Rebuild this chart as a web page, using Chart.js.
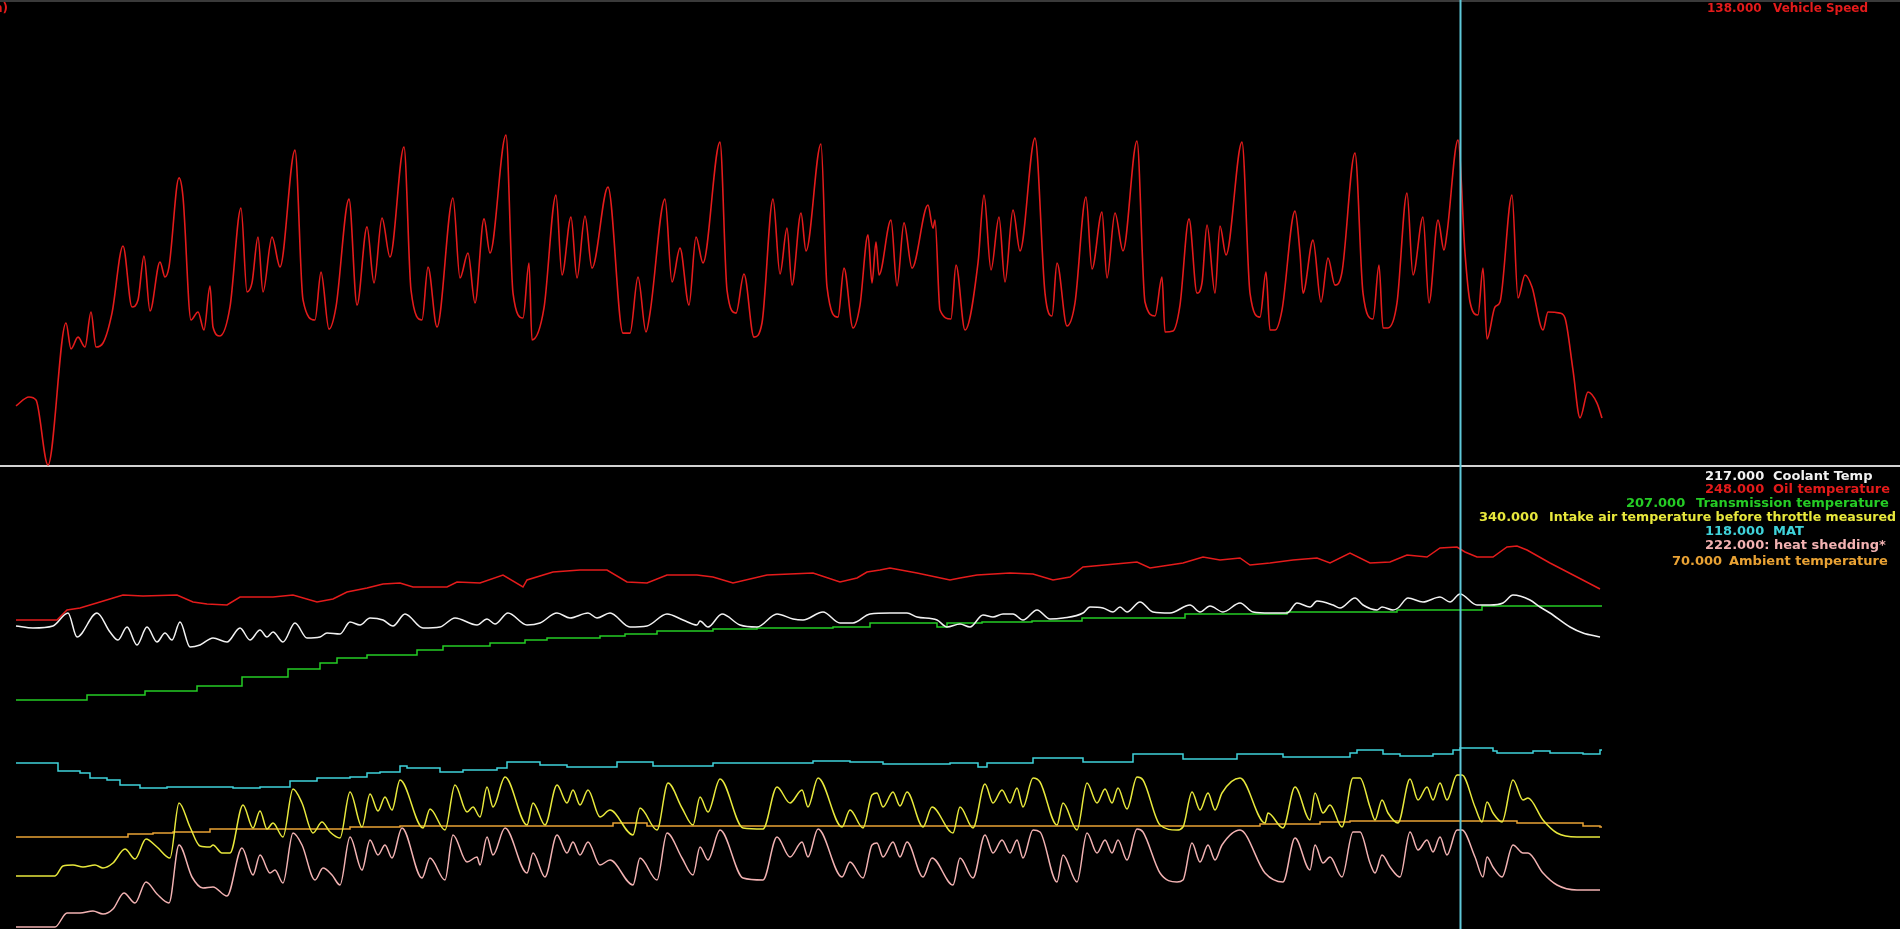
<!DOCTYPE html>
<html>
<head>
<meta charset="utf-8">
<script src="https://cdn.jsdelivr.net/npm/chart.js@4.4.1/dist/chart.umd.min.js"></script>
<style>
html,body{margin:0;padding:0;background:#000;overflow:hidden;}
#wrap{position:relative;width:1900px;height:929px;background:#000;overflow:hidden;}
#c{position:absolute;left:0;top:0;}
.lbl{position:absolute;font-family:"DejaVu Sans",sans-serif;font-weight:bold;font-size:13px;line-height:14px;white-space:pre;}
.top{font-size:12px;}
.narrow{font-size:12.6px;}
</style>
</head>
<body>
<div id="wrap">
<canvas id="c" width="1900" height="929"></canvas>
</div>
<script>
// ---- data: [time sample, value] ----
const cursorTime = 1445;

const vehicleSpeed = [[1,25.1],[14,28.9],[21,27.6],[33,0],[51,60.3],[56,49.3],[63,54.3],[70,50.1],[76,65.0],[81,50.1],[88,51.8],[97,64.5],[108,93.0],[117,67.1],[123,70.1],[129,88.7],[135,65.4],[145,86.2],[150,79.8],[154,84.1],[164,121.9],[168,113.8],[176,61.6],[183,65.0],[189,57.3],[195,76.0],[198,58.6],[205,54.8],[215,67.1],[226,109.1],[232,73.5],[237,77.3],[243,96.8],[248,73.5],[257,96.8],[265,84.1],[280,133.7],[288,70.1],[300,61.6],[306,81.9],[314,57.7],[321,67.1],[334,112.9],[342,67.9],[352,101.1],[359,77.3],[367,104.9],[375,88.3],[389,135.0],[396,74.3],[407,61.6],[413,84.1],[422,58.6],[438,113.4],[445,79.4],[453,90.0],[460,68.8],[469,104.5],[475,90.0],[491,140.1],[498,73.0],[508,62.4],[514,85.8],[517,53.1],[529,66.7],[541,114.6],[547,80.7],[556,105.3],[562,79.4],[570,105.7],[577,83.6],[593,118.0],[608,56.0],[615,56.0],[623,79.8],[631,56.5],[635,64.5],[650,112.9],[657,77.7],[665,92.1],[674,67.9],[681,96.8],[688,85.8],[705,137.1],[712,74.3],[721,64.5],[729,81.1],[739,54.3],[747,60.3],[758,112.9],[765,81.1],[772,100.6],[777,76.4],[786,107.0],[791,90.9],[806,136.3],[812,75.6],[823,62.8],[829,83.6],[838,58.2],[845,67.9],[853,97.7],[857,77.3],[861,94.7],[864,80.7],[876,104.0],[882,76.0],[889,102.8],[897,83.6],[913,110.4],[918,100.6],[920,104.0],[925,65.8],[936,62.0],[941,84.9],[950,57.3],[963,85.8],[969,114.6],[976,82.8],[984,105.3],[990,77.7],[998,108.3],[1005,90.9],[1020,138.8],[1030,73.0],[1037,63.3],[1042,85.8],[1052,59.0],[1060,68.8],[1071,113.8],[1077,83.2],[1087,107.4],[1092,79.4],[1100,107.0],[1108,90.9],[1122,137.6],[1130,69.2],[1140,63.3],[1147,79.8],[1150,56.5],[1158,56.9],[1165,67.9],[1174,104.5],[1182,73.0],[1187,77.3],[1192,101.9],[1200,73.0],[1205,101.5],[1211,89.2],[1227,137.1],[1235,73.0],[1245,62.8],[1251,81.9],[1255,57.3],[1260,57.3],[1267,65.8],[1280,107.8],[1285,90.0],[1288,73.0],[1298,95.5],[1306,69.2],[1313,87.9],[1320,76.4],[1327,81.9],[1340,132.5],[1348,73.0],[1358,62.0],[1364,84.9],[1368,58.2],[1373,58.2],[1382,68.8],[1392,115.5],[1398,80.7],[1408,105.3],[1414,68.8],[1423,104.0],[1429,91.3],[1432,98.5],[1443,138.0],[1450,90.0],[1455,69.2],[1463,63.7],[1468,83.6],[1472,53.5],[1480,67.1],[1485,69.2],[1497,114.6],[1503,70.9],[1510,80.7],[1517,75.6],[1528,57.3],[1533,65.0],[1545,64.5],[1550,62.4],[1558,40.3],[1565,20.0],[1573,31.0],[1582,26.3],[1587,20.0]];

const coolantTemp = [[1,204.2],[18,203.4],[38,204.2],[53,209.4],[62,199.8],[82,209.4],[95,201.8],[103,198.6],[112,203.8],[122,196.6],[132,203.8],[142,197.8],[150,201.4],[157,198.6],[165,205.8],[175,195.8],[185,196.6],[198,199.4],[212,197.8],[225,203.4],[235,198.6],[245,202.6],[252,199.8],[258,201.8],[268,197.8],[280,205.4],[292,199.4],[305,199.8],[312,201.4],[325,201.0],[335,205.8],[345,204.6],[355,207.4],[368,206.6],[378,204.2],[390,209.0],[408,203.4],[425,203.8],[440,207.4],[462,204.6],[472,207.0],[480,205.0],[493,209.4],[512,204.6],[525,205.4],[542,209.4],[555,207.4],[573,209.4],[582,207.4],[595,209.4],[615,203.8],[632,204.2],[652,209.0],[668,206.6],[682,204.6],[685,206.2],[693,203.8],[707,209.0],[725,204.6],[742,203.8],[762,209.0],[778,207.0],[788,206.6],[808,209.8],[825,205.4],[838,205.4],[855,209.0],[875,209.4],[892,209.4],[902,207.8],[922,206.6],[932,203.8],[945,205.0],[955,203.8],[968,208.6],[978,207.8],[988,209.0],[998,209.0],[1008,206.6],[1022,210.6],[1035,207.0],[1048,207.4],[1068,209.4],[1075,211.8],[1088,211.4],[1098,209.8],[1105,211.8],[1112,209.8],[1125,213.8],[1138,209.8],[1155,209.4],[1175,212.6],[1185,209.8],[1195,212.2],[1208,209.8],[1225,213.4],[1238,209.8],[1255,209.4],[1272,209.4],[1282,213.4],[1295,211.8],[1302,214.2],[1318,212.6],[1325,211.4],[1340,215.4],[1348,212.6],[1362,210.6],[1367,211.8],[1378,210.6],[1383,211.4],[1393,215.4],[1408,213.8],[1425,215.8],[1435,213.8],[1445,217.0],[1462,212.6],[1475,212.6],[1488,213.4],[1498,216.6],[1515,214.6],[1525,211.8],[1535,209.4],[1555,203.8],[1568,201.4],[1585,199.8]];

const oilTemp = [[1,212],[42,212],[52,217],[65,218],[85,221],[108,224.5],[128,224],[162,224.5],[178,221],[192,220],[212,219.5],[225,223.5],[258,223.5],[278,224.5],[302,221],[318,222.5],[332,226],[352,228],[368,230],[385,230.5],[398,228.5],[432,228.5],[442,231],[465,230.5],[488,234.5],[508,228.5],[512,232],[538,236],[565,237],[592,237],[612,231],[632,230.5],[652,234.5],[682,234.5],[698,233.5],[718,230.5],[752,234.5],[798,235.5],[825,231],[842,233],[852,236],[865,237],[875,238],[902,235.5],[935,232],[945,233],[962,234.5],[995,235.5],[1018,235],[1038,232],[1055,233.5],[1068,238.5],[1122,241],[1135,238],[1168,240.5],[1188,243.5],[1205,242],[1225,243],[1235,239.5],[1255,240.5],[1278,242],[1302,243],[1315,240.5],[1335,245.5],[1355,240.5],[1375,241],[1392,244.5],[1412,243.5],[1425,248],[1442,248.5],[1450,246],[1462,243.5],[1478,243.5],[1492,248.5],[1502,249],[1512,247],[1535,240.5],[1562,233.5],[1585,227.5]];

const transTemp = [[1,161.5],[72,164],[130,166],[182,168.5],[227,173],[273,177],[305,180],[322,182.5],[352,184],[402,186.5],[428,188.5],[475,190],[510,191.5],[532,192.5],[585,193.5],[610,194.5],[642,196],[698,197],[742,197.5],[818,198],[855,200],[922,198],[932,200],[967,200.5],[1017,201],[1067,202.5],[1170,204.5],[1272,205.5],[1382,206.5],[1467,208.5],[1587,208.5]];

const intakeAirTemp = [[1,239],[40,239],[48,249],[58,250],[68,248],[80,250],[88,247],[98,252],[110,266],[120,256],[131,276],[142,268],[155,257],[164,312],[175,288],[185,269],[195,268],[198,270],[207,262],[215,262],[228,310],[238,287],[245,304],[252,286],[258,292],[268,278],[278,326],[287,312],[298,282],[307,293],[315,283],[325,277],[335,323],[347,288],[355,321],[363,304],[370,318],[377,305],[385,335],[408,287],[415,306],[430,285],[440,330],[452,303],[458,308],[465,298],[472,328],[478,308],[490,338],[512,290],[518,312],[530,290],[542,330],[552,312],[558,325],[565,310],[573,325],[585,298],[595,305],[618,280],[625,307],[642,285],[653,332],[667,307],[678,290],[685,318],[693,303],[705,336],[728,287],[748,286],[762,328],[775,312],[787,325],[793,308],[803,337],[827,288],[835,305],[848,287],[857,320],[862,322],[868,308],[878,323],[885,309],[892,323],[908,288],[917,308],[938,282],[945,308],[958,287],[970,331],[978,312],[987,325],[995,312],[1002,327],[1008,308],[1018,337],[1025,333],[1042,290],[1048,312],[1062,285],[1072,332],[1082,312],[1090,326],[1097,312],[1103,327],[1112,306],[1122,338],[1128,335],[1145,290],[1162,285],[1168,288],[1177,323],[1185,305],[1193,322],[1200,305],[1207,322],[1225,337],[1250,292],[1253,302],[1268,287],[1280,328],[1295,295],[1300,322],[1308,302],[1315,310],[1327,288],[1338,337],[1345,337],[1355,308],[1360,295],[1367,315],[1373,302],[1383,292],[1395,336],[1403,315],[1412,328],[1418,315],[1425,332],[1432,315],[1442,340],[1447,340],[1460,308],[1467,293],[1472,313],[1478,302],[1487,293],[1498,335],[1508,315],[1513,317],[1528,295],[1542,282],[1562,278],[1585,278]];

const matTemp = [[1,110.5],[37,110.5],[43,106.5],[65,105.5],[75,103],[92,102],[105,99.5],[125,98],[152,98.5],[185,98.5],[218,98],[245,98.5],[275,101.5],[302,103],[335,103.5],[352,105.5],[365,106],[385,109],[392,108],[425,106],[448,107],[482,108],[492,111],[525,109.5],[552,108.5],[602,111],[638,109],[698,110.5],[732,110.5],[798,111.5],[835,111],[868,110],[935,110.5],[963,108.5],[972,110.5],[1018,113],[1068,111],[1118,115],[1168,112.5],[1222,115],[1268,113.5],[1335,115.5],[1342,117],[1368,115],[1385,114],[1418,115],[1438,117],[1445,118],[1478,116.5],[1482,115.5],[1502,115.5],[1518,116.5],[1535,115.5],[1568,115],[1585,117],[1587,117]];

const heatShedding = [[1,125],[40,125],[52,139],[65,139],[78,141],[88,138],[98,143],[109,159],[120,149],[131,170],[142,158],[154,149],[164,207],[177,175],[188,164],[198,165],[212,156],[227,204],[238,177],[245,197],[255,179],[260,182],[268,169],[278,219],[287,207],[300,172],[308,184],[317,177],[325,167],[335,215],[347,182],[355,212],[363,197],[370,207],[377,194],[387,224],[407,174],[415,194],[430,172],[438,217],[452,190],[462,195],[465,187],[472,215],[478,197],[490,224],[512,179],[518,199],[530,175],[542,217],[552,199],[558,210],[565,197],[573,210],[585,187],[595,192],[618,167],[625,194],[642,172],[652,219],[667,194],[678,177],[685,205],[693,192],[705,222],[728,174],[748,172],[762,215],[775,195],[787,210],[793,195],[803,223],[827,175],[835,190],[848,174],[857,207],[862,209],[868,195],[878,210],[885,195],[892,210],[908,175],[917,194],[938,167],[945,194],[958,174],[970,217],[978,199],[987,212],[995,199],[1002,212],[1008,194],[1018,222],[1025,220],[1042,170],[1048,197],[1062,170],[1072,219],[1082,199],[1090,212],[1097,199],[1103,212],[1112,192],[1122,223],[1128,220],[1145,179],[1162,170],[1168,172],[1177,209],[1185,190],[1193,207],[1200,192],[1207,207],[1225,222],[1250,179],[1268,170],[1280,214],[1295,182],[1300,207],[1308,189],[1315,195],[1327,175],[1338,220],[1345,220],[1355,189],[1360,179],[1367,197],[1375,185],[1385,175],[1395,220],[1403,202],[1412,212],[1418,200],[1425,215],[1432,197],[1442,222],[1447,222],[1460,195],[1468,175],[1472,195],[1478,185],[1487,175],[1498,207],[1508,199],[1513,199],[1528,179],[1542,167],[1562,162],[1585,162]];

const ambientTemp = [[1,62.5],[112,62.5],[113,64],[138,64.5],[158,65],[195,66.5],[335,67.5],[385,68],[598,69.5],[632,68],[1245,69],[1305,70],[1335,70.5],[1502,69.5],[1568,68],[1585,67.5],[1587,67.5]];

// cursor read-outs and channel names (text)
const topLabel = {value:'138.000', name:'Vehicle Speed'};
const legendValues = ['217.000','248.000','207.000','340.000','118.000','222.000:','70.000'];
const legendNames = ['Coolant Temp','Oil temperature','Transmission temperature','Intake air temperature before throttle measured','MAT','heat shedding*','Ambient temperature'];

// ---- styles / placement ----
const legendColors = ['#f2f2f2','#e41b1b','#25cc25','#e8e83c','#3fd2da','#f2b2b2','#e9a234'];
const legendValueX = [1705,1705,1626,1479,1705,1705,1672];
const legendNameX  = [1773,1773,1696,1549,1773,1774,1729];
const legendY      = [469,482,496,510,524,538,554];

const wrap = document.getElementById('wrap');
function addLabel(text, x, y, color, cls){
  const d = document.createElement('div');
  d.className = 'lbl' + (cls ? ' ' + cls : '');
  d.textContent = text;
  d.style.left = x + 'px'; d.style.top = y + 'px'; d.style.color = color;
  wrap.appendChild(d);
  return d;
}
addLabel(topLabel.value, 1707, 1, '#e41b1b', 'top');
addLabel(topLabel.name, 1773, 1, '#e41b1b', 'top');
const unit = addLabel('(km/h)', 0, 1, '#e41b1b', 'top');
unit.style.left = ''; unit.style.right = '1892px';
for (let i = 0; i < legendNames.length; i++){
  addLabel(legendValues[i], legendValueX[i], legendY[i], legendColors[i]);
  addLabel(legendNames[i], legendNameX[i], legendY[i], legendColors[i], i === 3 ? 'narrow' : '');
}

const pts = a => a.map(p => ({x:p[0], y:p[1]}));

function ds(label, data, color, axis, stepped, width, smooth){
  const o = {label, data: pts(data), borderColor: color, backgroundColor: color,
    yAxisID: axis, stepped: stepped || false, borderWidth: width || 1.5,
    pointRadius: 0, tension: 0, fill: false};
  if (smooth) o.cubicInterpolationMode = 'monotone';
  return o;
}

const overlay = {
  id:'overlay',
  beforeDatasetsDraw(chart){
    const {ctx, scales} = chart;
    ctx.save();
    ctx.strokeStyle = '#3a3a3a'; ctx.lineWidth = 2;
    ctx.beginPath(); ctx.moveTo(0, 1); ctx.lineTo(chart.width, 1); ctx.stroke();
    const ys = scales.ySpeed.getPixelForValue(0);
    ctx.strokeStyle = '#d2d2d2'; ctx.lineWidth = 2.2;
    ctx.beginPath(); ctx.moveTo(0, ys + 1); ctx.lineTo(chart.width, ys + 1); ctx.stroke();
    ctx.restore();
  },
  afterDatasetsDraw(chart){
    const {ctx, scales} = chart;
    const xc = Math.round(scales.x.getPixelForValue(cursorTime)) + 0.5;
    ctx.save();
    ctx.strokeStyle = '#5ec7d8'; ctx.lineWidth = 2;
    ctx.beginPath(); ctx.moveTo(xc, 0); ctx.lineTo(xc, chart.height); ctx.stroke();
    ctx.restore();
  }
};

new Chart(document.getElementById('c'), {
  type: 'line',
  data: {
    datasets: [
      ds('Vehicle Speed', vehicleSpeed, '#e41b1b', 'ySpeed', false, 1.6, true),
      ds('Coolant Temp', coolantTemp, '#f2f2f2', 'yCoolant', false, 1.5, true),
      ds('Oil temperature', oilTemp, '#e41b1b', 'yOil'),
      ds('Transmission temperature', transTemp, '#25cc25', 'yTrans', 'before'),
      ds('Intake air temperature before throttle measured', intakeAirTemp, '#e8e83c', 'yIntake', false, 1.5, true),
      ds('MAT', matTemp, '#3fd2da', 'yMat', 'before'),
      ds('heat shedding*', heatShedding, '#f2b2b2', 'yHeat', false, 1.5, true),
      ds('Ambient temperature', ambientTemp, '#e9a234', 'yAmb', 'before')
    ]
  },
  options: {
    responsive: false,
    animation: false,
    devicePixelRatio: 1,
    layout: {padding: 0},
    plugins: {legend: {display: false}, tooltip: {enabled: false}, title: {display: false}},
    scales: {
      x: {type: 'linear', min: -15, max: 1885, display: false},
      ySpeed:   {min: -197.0, max: 197.44, display: false},
      yOil:     {min: 57.5,   max: 522,    display: false},
      yCoolant: {min: 83,     max: 454.6,  display: false},
      yTrans:   {min: 47,     max: 511.5,  display: false},
      yMat:     {min: 27.5,   max: 492,    display: false},
      yAmb:     {min: 16.5,   max: 481,    display: false},
      yIntake:  {min: 186,    max: 1115,   display: false},
      yHeat:    {min: 123,    max: 1052,   display: false}
    }
  },
  plugins: [overlay]
});
</script>
</body>
</html>
